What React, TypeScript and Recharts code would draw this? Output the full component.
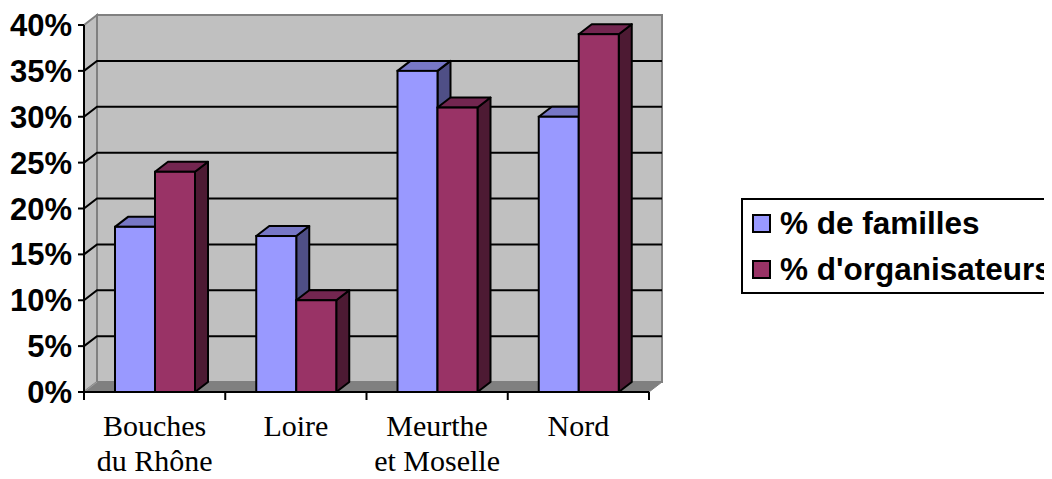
import React from "react";
import {
  BarChart,
  Bar,
  XAxis,
  YAxis,
  CartesianGrid,
  ReferenceArea,
  Legend,
} from "recharts";

const categories = ["Bouches\ndu Rhône", "Loire", "Meurthe\net Moselle", "Nord"];
const familles = [18, 17, 35, 30];
const organisateurs = [24, 10, 31, 39];
const yTicks = [0, 5, 10, 15, 20, 25, 30, 35, 40];
const seriesNames = ["% de familles", "% d'organisateurs"];

const data = categories.map((name, i) => ({
  name,
  familles: familles[i],
  organisateurs: organisateurs[i],
}));

const DX = 13;
const DY = 10;

const BLUE = { front: "#9999FF", top: "#7777C6", side: "#4F4F86" };
const RED = { front: "#993366", top: "#732650", side: "#4D1A33" };

function makeBox(colors: { front: string; top: string; side: string }) {
  return (props: any) => {
    const { x, y, width, height } = props;
    if (x == null || y == null || !width) return <g />;
    const w = width;
    const h = height;
    const top = `M${x},${y} L${x + DX},${y - DY} L${x + w + DX},${y - DY} L${x + w},${y} Z`;
    const side = `M${x + w},${y} L${x + w + DX},${y - DY} L${x + w + DX},${y + h - DY} L${x + w},${y + h} Z`;
    return (
      <g>
        <path d={side} fill={colors.side} stroke="#000" strokeWidth={2} strokeLinejoin="round" />
        <path d={top} fill={colors.top} stroke="#000" strokeWidth={2} strokeLinejoin="round" />
        <rect x={x} y={y} width={w} height={h} fill={colors.front} stroke="#000" strokeWidth={2} />
      </g>
    );
  };
}

const BlueBox = makeBox(BLUE);
const RedBox = makeBox(RED);

function Background(props: any) {
  const { x, y, width, height } = props;
  const b = y + height;
  return (
    <g>
      <rect x={x + DX} y={y - DY} width={width} height={height} fill="#C0C0C0" stroke="#808080" strokeWidth={2} />
      <path
        d={`M${x},${y} L${x + DX},${y - DY} L${x + DX},${b - DY} L${x},${b} Z`}
        fill="#C0C0C0"
        stroke="#808080"
        strokeWidth={2}
      />
      <path
        d={`M${x},${b} L${x + DX},${b - DY} L${x + width + DX},${b - DY} L${x + width},${b} Z`}
        fill="#808080"
        stroke="#808080"
        strokeWidth={1}
      />
      <path d={`M${x},${b} L${x + DX},${b - DY}`} stroke="#A0A0A0" strokeWidth={1} />
    </g>
  );
}

function GridLine(props: any) {
  const { x1, y1, x2, y, height } = props;
  if (typeof y === "number" && typeof height === "number") {
    if (Math.abs(y1 - y) < 1 || Math.abs(y1 - (y + height)) < 1) return <g key={props.key} />;
  }
  return (
    <path
      key={props.key}
      d={`M${x1},${y1} L${x1 + DX},${y1 - DY} L${x2 + DX},${y1 - DY}`}
      fill="none"
      stroke="#000"
      strokeWidth={2}
    />
  );
}

function XTick(props: any) {
  const { x, y, payload, index, width, visibleTicksCount } = props;
  const count = visibleTicksCount || categories.length;
  const half = typeof width === "number" && width > 0 ? width / count / 2 : 70.625;
  const lines = String(payload.value).split("\n");
  return (
    <g>
      <line x1={x - half} x2={x - half} y1={y} y2={y + 8} stroke="#000" strokeWidth={2} />
      {index === count - 1 && (
        <line x1={x + half} x2={x + half} y1={y} y2={y + 8} stroke="#000" strokeWidth={2} />
      )}
      <text textAnchor="middle" fontFamily="'Liberation Serif', 'Times New Roman', serif" fontSize={30} fill="#000">
        {lines.map((l, i) => (
          <tspan key={i} x={x} y={y + 44 + i * 35}>
            {l}
          </tspan>
        ))}
      </text>
    </g>
  );
}

const seriesColors = [BLUE.front, RED.front];

function LegendBox() {
  return (
    <div
      style={{
        border: "2px solid #000",
        width: 420,
        height: 92,
        boxSizing: "content-box",
        fontFamily: "'Liberation Sans', Arial, sans-serif",
        fontWeight: "bold",
        fontSize: 31.5,
        color: "#000",
        background: "#fff",
      }}
    >
      {seriesNames.map((n, i) => (
        <div key={n} style={{ display: "flex", alignItems: "center", height: 46, lineHeight: "46px", paddingLeft: 9, whiteSpace: "nowrap" }}>
          <span
            style={{
              display: "inline-block",
              width: 15,
              height: 15,
              border: "2px solid #000",
              background: seriesColors[i],
              marginRight: 9,
            }}
          />
          <span>{n}</span>
        </div>
      ))}
    </div>
  );
}

export default function App() {
  return (
    <div style={{ width: 1044, height: 471, marginBottom: -8, overflow: "hidden", position: "relative" }}>
      <BarChart
        width={1044}
        height={471}
        data={data}
        margin={{ top: 17, right: 403, bottom: 8, left: 0 }}
        barGap={0}
        barSize={40}
      >
        <ReferenceArea y1={0} y2={40} ifOverflow="visible" shape={Background} zIndex={-200} />
        <CartesianGrid vertical={false} horizontal={GridLine as any} />
        <XAxis
          dataKey="name"
          height={79}
          interval={0}
          tickLine={false}
          tickSize={0}
          tickMargin={0}
          axisLine={{ stroke: "#000", strokeWidth: 2 }}
          tick={<XTick />}
        />
        <YAxis
          width={76}
          domain={[0, 40]}
          ticks={yTicks}
          interval={0}
          tickFormatter={(v: number) => `${v}%`}
          tickSize={6}
          tickMargin={6}
          axisLine={{ stroke: "#000", strokeWidth: 2 }}
          tickLine={{ stroke: "#000", strokeWidth: 2 }}
          tick={{ fill: "#000", fontSize: 31, fontWeight: "bold", fontFamily: "'Liberation Sans', Arial, sans-serif" }}
        />
        <Bar dataKey="familles" name={seriesNames[0]} fill={BLUE.front} shape={BlueBox} isAnimationActive={false} />
        <Bar dataKey="organisateurs" name={seriesNames[1]} fill={RED.front} shape={RedBox} isAnimationActive={false} />
        <Legend
          layout="horizontal"
          align="center"
          verticalAlign="middle"
          wrapperStyle={{ left: 733, top: 190, width: 430, height: 96, margin: 0, padding: 0 }}
          content={() => <LegendBox />}
        />
      </BarChart>
    </div>
  );
}
